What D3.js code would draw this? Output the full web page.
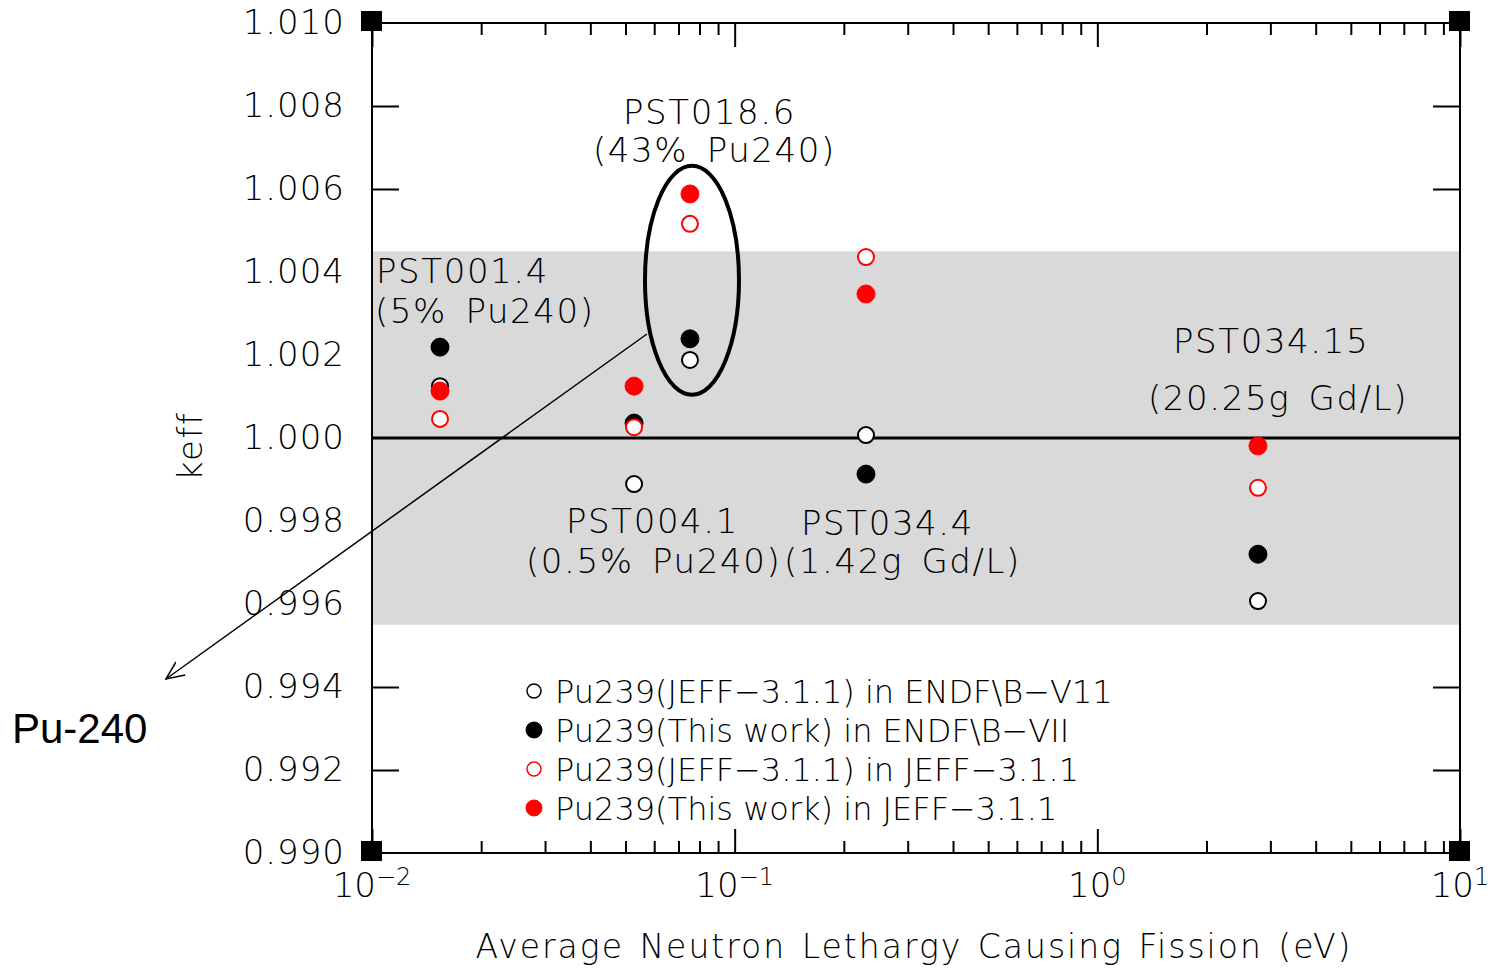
<!DOCTYPE html>
<html>
<head>
<meta charset="utf-8">
<script src="https://cdn.jsdelivr.net/npm/d3@7"></script>
<style>
  html, body { margin: 0; padding: 0; background: #fff; }
  svg { display: block; }
  .hf { font-family: "DejaVu Sans", sans-serif; font-weight: 200; fill: #000; }
</style>
</head>
<body>
<svg id="chart" width="1488" height="968"></svg>
<script>
// ---- data ----
const cases = ["PST001.4", "PST004.1", "PST018.6", "PST034.4", "PST034.15"];
const lethargy = [0.0154, 0.0528, 0.0753, 0.2302, 2.773];
const jeffInEndf = [1.00125, 0.99889, 1.00188, 1.00007, 0.99607];   // open black
const thisInEndf = [1.00219, 1.00036, 1.00239, 0.99913, 0.99720];   // filled black
const jeffInJeff = [1.00046, 1.00026, 1.00516, 1.00436, 0.99880];   // open red
const thisInJeff = [1.00113, 1.00125, 1.00588, 1.00347, 0.99981];   // filled red
const seriesNames = [
  "Pu239(JEFF\u22123.1.1) in ENDF\\B\u2212V11",
  "Pu239(This work) in ENDF\\B\u2212VII",
  "Pu239(JEFF\u22123.1.1) in JEFF\u22123.1.1",
  "Pu239(This work) in JEFF\u22123.1.1"
];
const yTicks = [0.990, 0.992, 0.994, 0.996, 0.998, 1.000, 1.002, 1.004, 1.006, 1.008, 1.010];
const yTickLabels = ["0.990", "0.992", "0.994", "0.996", "0.998", "1.000", "1.002", "1.004", "1.006", "1.008", "1.010"];
const xMajor = [0.01, 0.1, 1, 10];
const xMajorExp = ["\u22122", "\u22121", "0", "1"];
const bandLimits = [0.9955, 1.0045];

// ---- scales ----
const svg = d3.select("#chart");
const x = d3.scaleLog().domain([0.01, 10]).range([372, 1460]);
const y = d3.scaleLinear().domain([0.990, 1.010]).range([853, 23]);
const [x0, x1] = x.range();
const [yb, yt] = y.range();

// minor ticks
const xMinor = [];
x.ticks().forEach(t => { if (!xMajor.some(m => Math.abs(m - t) < 1e-12)) xMinor.push(t); });

// axes ticks
function styleAxis(g) {
  g.select(".domain").remove();
  g.selectAll(".tick line").attr("stroke", "#000").attr("stroke-width", 2);
}
svg.append("g").attr("transform", `translate(0,${yb})`)
  .call(d3.axisBottom(x).tickValues(xMajor).tickSize(-24).tickFormat(""))
  .call(styleAxis);
svg.append("g").attr("transform", `translate(0,${yb})`)
  .call(d3.axisBottom(x).tickValues(xMinor).tickSize(-12).tickFormat(""))
  .call(styleAxis);
svg.append("g").attr("transform", `translate(0,${yt})`)
  .call(d3.axisTop(x).tickValues(xMajor).tickSize(-24).tickFormat(""))
  .call(styleAxis);
svg.append("g").attr("transform", `translate(0,${yt})`)
  .call(d3.axisTop(x).tickValues(xMinor).tickSize(-12).tickFormat(""))
  .call(styleAxis);

const yAxL = svg.append("g").attr("transform", `translate(${x0},0)`)
  .call(d3.axisLeft(y).tickValues(yTicks).tickSize(-27).tickPadding(27)
    .tickFormat((d, i) => yTickLabels[i]))
  .call(styleAxis);
yAxL.selectAll(".tick text")
  .attr("class", "hf").attr("font-size", 34).attr("letter-spacing", 1).attr("fill", "#000");
yAxL.selectAll(".tick line").filter(d => d === 0.990 || d === 1.010).remove();

const yAxR = svg.append("g").attr("transform", `translate(${x1},0)`)
  .call(d3.axisRight(y).tickValues(yTicks).tickSize(-27).tickFormat(""))
  .call(styleAxis);
yAxR.selectAll(".tick line").filter(d => d === 0.990 || d === 1.010).remove();

// gray band (covers the ticks inside it, as in the original)
svg.append("rect")
  .attr("x", x0).attr("width", x1 - x0)
  .attr("y", y(bandLimits[1])).attr("height", y(bandLimits[0]) - y(bandLimits[1]))
  .attr("fill", "#d9d9d9");

// unity line
svg.append("line")
  .attr("x1", x0).attr("x2", x1)
  .attr("y1", y(1.0)).attr("y2", y(1.0))
  .attr("stroke", "#000").attr("stroke-width", 3);

// frame
svg.append("rect")
  .attr("x", x0).attr("y", yt).attr("width", x1 - x0).attr("height", yb - yt)
  .attr("fill", "none").attr("stroke", "#000").attr("stroke-width", 2);

// corner squares
[[x0, yt], [x1, yt], [x0, yb], [x1, yb]].forEach(([cx, cy]) => {
  svg.append("rect").attr("x", cx - 11).attr("y", cy - 12).attr("width", 21).attr("height", 20).attr("fill", "#000");
});

// x tick labels with superscripts
xMajor.forEach((v, i) => {
  const t = svg.append("text").attr("class", "hf")
    .attr("x", x(v)).attr("y", yb + 44)
    .attr("text-anchor", "middle").attr("font-size", 34);
  t.append("tspan").text("10");
  t.append("tspan").attr("font-size", 24).attr("dy", -12).text(xMajorExp[i]);
});

// axis titles
svg.append("text").attr("class", "hf")
  .attr("x", (x0 + x1) / 2 - 2).attr("y", 958)
  .attr("text-anchor", "middle").attr("font-size", 33)
  .attr("letter-spacing", 2).attr("word-spacing", 3)
  .text("Average Neutron Lethargy Causing Fission (eV)");
svg.append("text").attr("class", "hf")
  .attr("transform", `translate(202,${y(0.9998)}) rotate(-90)`)
  .attr("text-anchor", "middle").attr("font-size", 34).attr("letter-spacing", 1.5)
  .text("keff");

// annotations
const notes = [
  { t: "PST018.6", px: 623, py: 124 },
  { t: "(43% Pu240)", px: 593, py: 162 },
  { t: "PST001.4", px: 376, py: 283 },
  { t: "(5% Pu240)", px: 375, py: 323 },
  { t: "PST004.1", px: 566, py: 533 },
  { t: "(0.5% Pu240)", px: 526, py: 573 },
  { t: "PST034.4", px: 801, py: 535 },
  { t: "(1.42g Gd/L)", px: 784, py: 573 },
  { t: "PST034.15", px: 1173, py: 353 },
  { t: "(20.25g Gd/L)", px: 1148, py: 410 }
];
notes.forEach(n => {
  svg.append("text").attr("class", "hf")
    .attr("x", n.px).attr("y", n.py).attr("text-anchor", "start")
    .attr("font-size", 34).attr("letter-spacing", 1.6).attr("word-spacing", 6)
    .text(n.t);
});

// points
const series = [
  { v: jeffInEndf, fill: "#fff", stroke: "#000" },
  { v: thisInEndf, fill: "#000", stroke: "#000" },
  { v: jeffInJeff, fill: "#fff", stroke: "#ff0000" },
  { v: thisInJeff, fill: "#ff0000", stroke: "#ff0000" }
];
series.forEach(s => {
  svg.append("g").selectAll("circle")
    .data(lethargy.map((lx, i) => [lx, s.v[i]]))
    .join("circle")
    .attr("cx", d => x(d[0])).attr("cy", d => y(d[1]))
    .attr("r", s.fill === "#fff" ? 8 : 9)
    .attr("fill", s.fill).attr("stroke", s.stroke)
    .attr("stroke-width", s.fill === "#fff" ? 2 : 1);
});

// ellipse around PST018.6
svg.append("ellipse")
  .attr("cx", x(lethargy[2]) + 2).attr("cy", y(1.0038))
  .attr("rx", 47).attr("ry", 114.5)
  .attr("fill", "none").attr("stroke", "#000").attr("stroke-width", 4);

// arrow
svg.append("defs").append("marker")
  .attr("id", "arr").attr("viewBox", "0 0 20 20").attr("refX", 18).attr("refY", 10)
  .attr("markerWidth", 20).attr("markerHeight", 20).attr("markerUnits", "userSpaceOnUse")
  .attr("orient", "auto")
  .append("path").attr("d", "M0,2 L18,10 L0,18").attr("fill", "none")
  .attr("stroke", "#000").attr("stroke-width", 1.5);
svg.append("line")
  .attr("x1", x(0.0573)).attr("y1", y(1.002506))
  .attr("x2", x(0.002704)).attr("y2", y(0.994193))
  .attr("stroke", "#000").attr("stroke-width", 1.5)
  .attr("marker-end", "url(#arr)");
svg.append("text")
  .attr("x", 12).attr("y", 743)
  .attr("font-family", "Liberation Sans, Arial, sans-serif")
  .attr("font-size", 42).attr("fill", "#000")
  .text("Pu-240");

// legend
const lg = svg.append("g");
const legFill = ["#fff", "#000", "#fff", "#ff0000"];
const legStroke = ["#000", "#000", "#ff0000", "#ff0000"];
seriesNames.forEach((name, i) => {
  const ly = 691 + i * 39;
  lg.append("circle").attr("cx", 534).attr("cy", ly).attr("r", legFill[i] === "#fff" ? 7 : 8)
    .attr("fill", legFill[i]).attr("stroke", legStroke[i]).attr("stroke-width", legFill[i] === "#fff" ? 1.5 : 1);
  lg.append("text").attr("class", "hf")
    .attr("x", 555).attr("y", ly + 12).attr("font-size", 32).text(name);
});
</script>
</body>
</html>
